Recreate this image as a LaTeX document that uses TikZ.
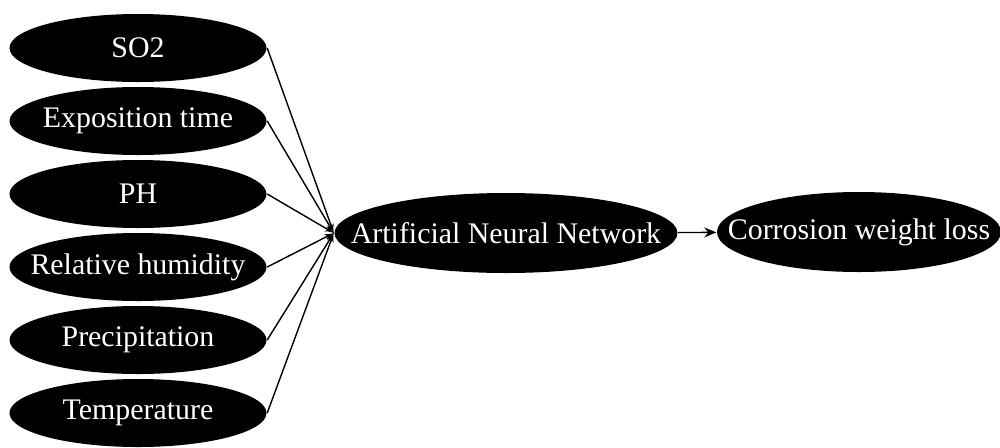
\documentclass[tikz,border=0pt]{standalone}
\usepackage{fontspec}
\setmainfont{Liberation Serif}
\usetikzlibrary{positioning}
\usetikzlibrary{arrows}
\usetikzlibrary{arrows.meta}
\usetikzlibrary{shapes.geometric}
\newcommand{\ctext}[1]{\makebox[0pt]{#1}}
\tikzset{edge/.style = {->,> = latex'}}
\tikzset{out edge/.style = {-{Stealth[length=2.4mm,width=2mm]}}}

\begin{document}
\begin{tikzpicture}[node distance=1.46cm,thick,
    in node/.style={ellipse,fill=black,text=white,inner sep=0pt,minimum width=5.14cm,minimum height=1.36cm,font=\fontsize{17}{20}\selectfont},
    big node/.style={in node,minimum width=6.86cm,minimum height=1.6cm}]
            \useasboundingbox (0,0) rectangle (20,-8.94);

            \node[in node] (so2) at (2.76,-0.96) {\ctext{SO2}};
            \node[in node] (time) [below of=so2] {\ctext{Exposition time}};
            \node[in node] (ph) [below of=time] {\ctext{PH}};
            \node[in node] (rh) [below of=ph] {\ctext{Relative humidity}};
            \node[in node] (prec) [below of=rh] {\ctext{Precipitation}};
            \node[in node] (temp) [below of=prec] {\ctext{Temperature}};

            \node[big node] (ann) at (10.12,-4.66) {\ctext{Artificial Neural Network}};
            \node[big node,minimum width=5.68cm] (loss) at (17.18,-4.64) {\ctext{Corrosion weight loss}};

            \path[edge] (so2.east) edge (ann.west);
            \path[edge] (time.east) edge (ann.west);
            \path[edge] (ph.east) edge (ann.west);
            \path[edge] (rh.east) edge (ann.west);
            \path[edge] (prec.east) edge (ann.west);
            \path[edge] (temp.east) edge (ann.west);

            \path[out edge] (ann) edge (loss);

        \end{tikzpicture}
\end{document}
